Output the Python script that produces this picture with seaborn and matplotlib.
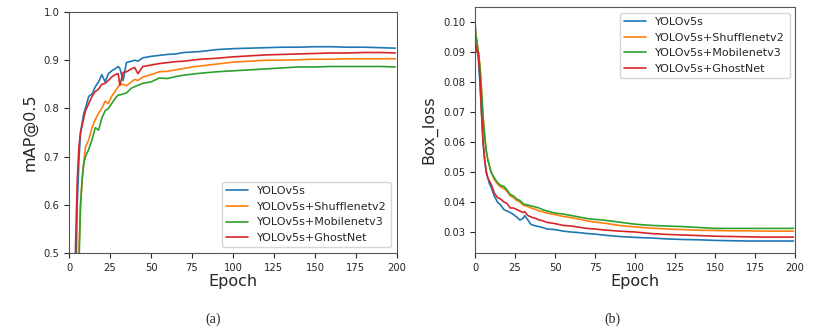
import pandas as pd
import numpy as np
import matplotlib
matplotlib.use("Agg")
import matplotlib.pyplot as plt
import seaborn as sns

models = ["YOLOv5s", "YOLOv5s+Shufflenetv2", "YOLOv5s+Mobilenetv3", "YOLOv5s+GhostNet"]

epochs = [0, 1, 2, 3, 4, 5, 6, 7, 8, 9, 10, 12, 14, 16, 18, 20, 22, 24, 26, 28, 30,
          31, 33, 35, 38, 40, 42, 45, 50, 55, 60, 65, 70, 75, 80, 90, 100, 110, 120,
          130, 140, 150, 160, 170, 180, 190, 199]

# mAP@0.5
map_yolo = [.05, .10, .18, .28, .42, .60, .69, .75, .77, .79, .80, .825, .83, .845, .855, .87,
            .855, .872, .878, .882, .887, .883, .858, .895, .898, .90, .898, .905, .908, .910,
            .912, .913, .916, .917, .918, .922, .924, .925, .926, .927, .927, .928, .928, .927,
            .927, .926, .925]
map_shuffle = [.02, .05, .10, .18, .28, .38, .50, .60, .65, .69, .72, .735, .76, .777, .79, .80,
               .815, .81, .825, .835, .845, .85, .85, .847, .855, .86, .858, .865, .87, .876,
               .877, .88, .883, .886, .888, .892, .896, .898, .90, .90, .901, .902, .902, .903,
               .903, .903, .903]
map_mobile = [.02, .05, .10, .18, .28, .36, .47, .60, .655, .685, .70, .715, .735, .76, .755, .78,
              .795, .80, .81, .82, .828, .828, .83, .832, .842, .845, .848, .852, .855, .863,
              .862, .866, .869, .871, .873, .876, .878, .88, .882, .884, .886, .886, .887, .887,
              .887, .887, .886]
map_ghost = [.05, .12, .22, .35, .52, .65, .72, .75, .765, .78, .795, .81, .825, .835, .84, .85,
             .852, .858, .865, .87, .872, .848, .875, .876, .882, .885, .872, .887, .89, .893,
             .895, .897, .898, .90, .902, .904, .907, .909, .911, .912, .913, .914, .915, .915,
             .916, .916, .915]

# Box_loss
box_yolo = [.100, .092, .088, .080, .070, .060, .054, .050, .048, .046, .045, .042, .040, .039,
            .0375, .037, .0365, .0358, .035, .034, .0345, .0355, .034, .0325, .032, .0318, .0315,
            .031, .0308, .0303, .030, .0298, .0295, .0293, .029, .0285, .0282, .028, .0277,
            .0275, .0274, .0272, .0271, .027, .027, .027, .027]
box_shuffle = [.098, .094, .090, .086, .078, .069, .062, .057, .054, .052, .050, .0475, .046,
               .045, .0445, .0435, .042, .0415, .0405, .040, .039, .0388, .0385, .038, .0375,
               .037, .0368, .0363, .0358, .0352, .0348, .0343, .0337, .0333, .033, .0322, .0317,
               .0313, .031, .0308, .0306, .0305, .0304, .0304, .0303, .0303, .0303]
box_mobile = [.097, .094, .090, .085, .077, .068, .062, .057, .054, .052, .050, .048, .0465,
              .0455, .0452, .044, .0425, .042, .041, .0405, .0395, .0392, .039, .0387, .0383,
              .038, .0375, .037, .0363, .036, .0355, .035, .0345, .0342, .034, .0333, .0326,
              .0322, .032, .0318, .0315, .0312, .0312, .0312, .0312, .0312, .0312]
box_ghost = [.094, .090, .090, .082, .070, .060, .054, .050, .048, .047, .046, .043, .0415, .041,
             .040, .0395, .038, .038, .0375, .037, .0365, .0368, .0355, .035, .0345, .034, .0338,
             .0332, .0328, .0322, .032, .0316, .0312, .031, .0307, .0303, .030, .0295, .0292,
             .029, .0288, .0286, .0285, .0284, .0283, .0283, .0283]


def long_table(series):
    frames = []
    for name, vals in zip(models, series):
        frames.append(pd.DataFrame({"Epoch": epochs, "value": vals, "model": name}))
    return pd.concat(frames, ignore_index=True)


df_map = long_table([map_yolo, map_shuffle, map_mobile, map_ghost])
df_box = long_table([box_yolo, box_shuffle, box_mobile, box_ghost])

sns.set_style("ticks")
plt.rcParams["font.family"] = ["DejaVu Sans"]
palette = ["#1f77b4", "#ff7f0e", "#2ca02c", "#d62728"]

fig = plt.figure(figsize=(8.32, 3.34), dpi=100)
ax1 = fig.add_axes([0.083, 0.2425, 0.394, 0.7215])
ax2 = fig.add_axes([0.571, 0.2425, 0.3846, 0.7365])

sns.lineplot(data=df_map, x="Epoch", y="value", hue="model", hue_order=models,
             palette=palette, linewidth=1.2, ax=ax1)
ax1.set_xlim(0, 200)
ax1.set_ylim(0.5, 1.0)
ax1.set_ylabel("mAP@0.5", fontsize=11.5)
ax1.legend(loc="lower right", fontsize=8)

sns.lineplot(data=df_box, x="Epoch", y="value", hue="model", hue_order=models,
             palette=palette, linewidth=1.2, ax=ax2)
ax2.set_xlim(0, 200)
ax2.set_ylim(0.023, 0.105)
ax2.set_yticks([0.03, 0.04, 0.05, 0.06, 0.07, 0.08, 0.09, 0.10])
ax2.set_ylabel("Box_loss", fontsize=11.5)
ax2.legend(loc="upper right", fontsize=8)

for ax in (ax1, ax2):
    ax.set_xticks([0, 25, 50, 75, 100, 125, 150, 175, 200])
    ax.set_xlabel("Epoch", fontsize=11.5, labelpad=1)
    ax.tick_params(labelsize=7.2, length=3.5, width=0.8)
    for s in ax.spines.values():
        s.set_color("#555555")
        s.set_linewidth(0.8)

fig.text(0.256, 0.045, "(a)", ha="center", va="center", fontsize=10, family="Liberation Serif")
fig.text(0.7356, 0.045, "(b)", ha="center", va="center", fontsize=10, family="Liberation Serif")

fig.savefig("out.png", dpi=100)
